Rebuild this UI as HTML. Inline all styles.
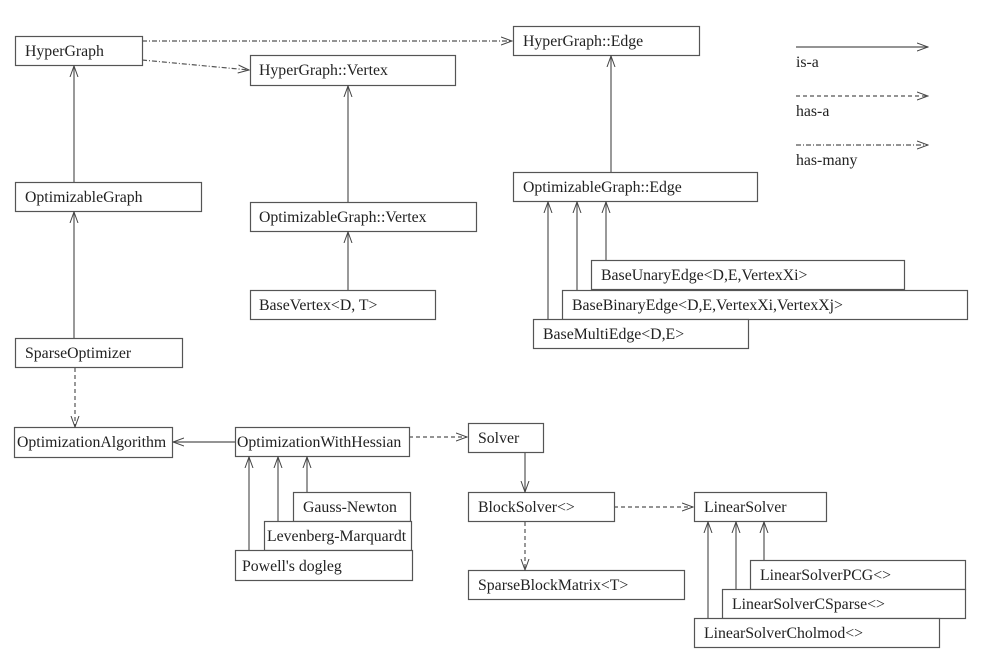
<!DOCTYPE html>
<html><head><meta charset="utf-8"><style>
body{margin:0;background:#fff}
svg text{font-family:"Liberation Serif",serif;font-size:15.8px;fill:#222}
</style></head><body>
<svg width="993" height="660" xmlns="http://www.w3.org/2000/svg">
<defs>
<marker id="a" markerWidth="12" markerHeight="10" refX="11" refY="5" orient="auto" markerUnits="userSpaceOnUse">
<path d="M0,1 L11,5 L0,9" fill="none" stroke="#444" stroke-width="1"/></marker>
</defs>
<g fill="#fff" stroke="#555" stroke-width="1.2">
<rect x="15.5" y="36.5" width="127" height="29"/>
<rect x="250.5" y="55.5" width="205" height="30"/>
<rect x="513.5" y="26.5" width="186" height="29"/>
<rect x="15.5" y="182.5" width="186" height="29"/>
<rect x="250.5" y="202.5" width="226" height="29"/>
<rect x="250.5" y="290.5" width="185" height="29"/>
<rect x="513.5" y="172.5" width="244" height="29"/>
<rect x="591.5" y="260.5" width="313" height="29"/>
<rect x="562.5" y="290.5" width="405" height="29"/>
<rect x="533.5" y="319.5" width="215" height="29"/>
<rect x="15.5" y="338.5" width="167" height="29"/>
<rect x="14.5" y="427.5" width="158" height="30"/>
<rect x="235.5" y="427.5" width="174" height="29"/>
<rect x="293.5" y="492.5" width="117" height="29"/>
<rect x="264.5" y="521.5" width="147" height="29"/>
<rect x="235.5" y="550.5" width="177" height="30"/>
<rect x="468.5" y="423.5" width="75" height="29"/>
<rect x="468.5" y="492.5" width="146" height="29"/>
<rect x="468.5" y="570.5" width="216" height="29"/>
<rect x="694.5" y="492.5" width="132" height="29"/>
<rect x="750.5" y="560.5" width="215" height="29"/>
<rect x="722.5" y="589.5" width="243" height="29"/>
<rect x="694.5" y="618.5" width="245" height="29"/>
</g>
<g>
<text x="25" y="56">HyperGraph</text>
<text x="259" y="75">HyperGraph::Vertex</text>
<text x="523" y="46">HyperGraph::Edge</text>
<text x="25" y="202">OptimizableGraph</text>
<text x="259" y="222">OptimizableGraph::Vertex</text>
<text x="259" y="310">BaseVertex&lt;D, T&gt;</text>
<text x="523" y="192">OptimizableGraph::Edge</text>
<text x="601" y="280">BaseUnaryEdge&lt;D,E,VertexXi&gt;</text>
<text x="572" y="310">BaseBinaryEdge&lt;D,E,VertexXi,VertexXj&gt;</text>
<text x="543" y="339">BaseMultiEdge&lt;D,E&gt;</text>
<text x="25" y="358">SparseOptimizer</text>
<text x="17" y="447">OptimizationAlgorithm</text>
<text x="237" y="447">OptimizationWithHessian</text>
<text x="303" y="512">Gauss-Newton</text>
<text x="267" y="541">Levenberg-Marquardt</text>
<text x="242" y="571">Powell's dogleg</text>
<text x="478" y="443">Solver</text>
<text x="478" y="512">BlockSolver&lt;&gt;</text>
<text x="478" y="590">SparseBlockMatrix&lt;T&gt;</text>
<text x="704" y="512">LinearSolver</text>
<text x="760" y="580">LinearSolverPCG&lt;&gt;</text>
<text x="732" y="609">LinearSolverCSparse&lt;&gt;</text>
<text x="704" y="638">LinearSolverCholmod&lt;&gt;</text>
<text x="796" y="67">is-a</text>
<text x="796" y="116">has-a</text>
<text x="796" y="165">has-many</text>
</g>
<g stroke="#555" stroke-width="1.2" fill="none" marker-end="url(#a)">
<line x1="796" y1="47" x2="928" y2="47"/>
<line x1="796" y1="96" x2="928" y2="96" stroke-dasharray="4,3"/>
<line x1="796" y1="145" x2="928" y2="145" stroke-dasharray="5,2,1,2"/>
<line x1="142" y1="41" x2="512" y2="41" stroke-dasharray="5,2,1,2"/>
<line x1="142" y1="60" x2="249" y2="70" stroke-dasharray="5,2,1,2"/>
<line x1="74" y1="182" x2="74" y2="66"/>
<line x1="74" y1="338" x2="74" y2="212"/>
<line x1="348" y1="202" x2="348" y2="86"/>
<line x1="348" y1="290" x2="348" y2="232"/>
<line x1="611" y1="172" x2="611" y2="56"/>
<line x1="548" y1="319" x2="548" y2="202"/>
<line x1="577" y1="290" x2="577" y2="202"/>
<line x1="606" y1="260" x2="606" y2="202"/>
<line x1="75" y1="368" x2="75" y2="427" stroke-dasharray="4,3"/>
<line x1="235" y1="442" x2="173" y2="442"/>
<line x1="409" y1="437" x2="467" y2="437" stroke-dasharray="4,3"/>
<line x1="249" y1="550" x2="249" y2="457"/>
<line x1="278" y1="521" x2="278" y2="457"/>
<line x1="307" y1="492" x2="307" y2="457"/>
<line x1="525" y1="453" x2="525" y2="492"/>
<line x1="525" y1="522" x2="525" y2="570" stroke-dasharray="4,3"/>
<line x1="614" y1="507" x2="693" y2="507" stroke-dasharray="4,3"/>
<line x1="708" y1="618" x2="708" y2="522"/>
<line x1="736" y1="589" x2="736" y2="522"/>
<line x1="764" y1="560" x2="764" y2="522"/>
</g>
</svg>
</body></html>
